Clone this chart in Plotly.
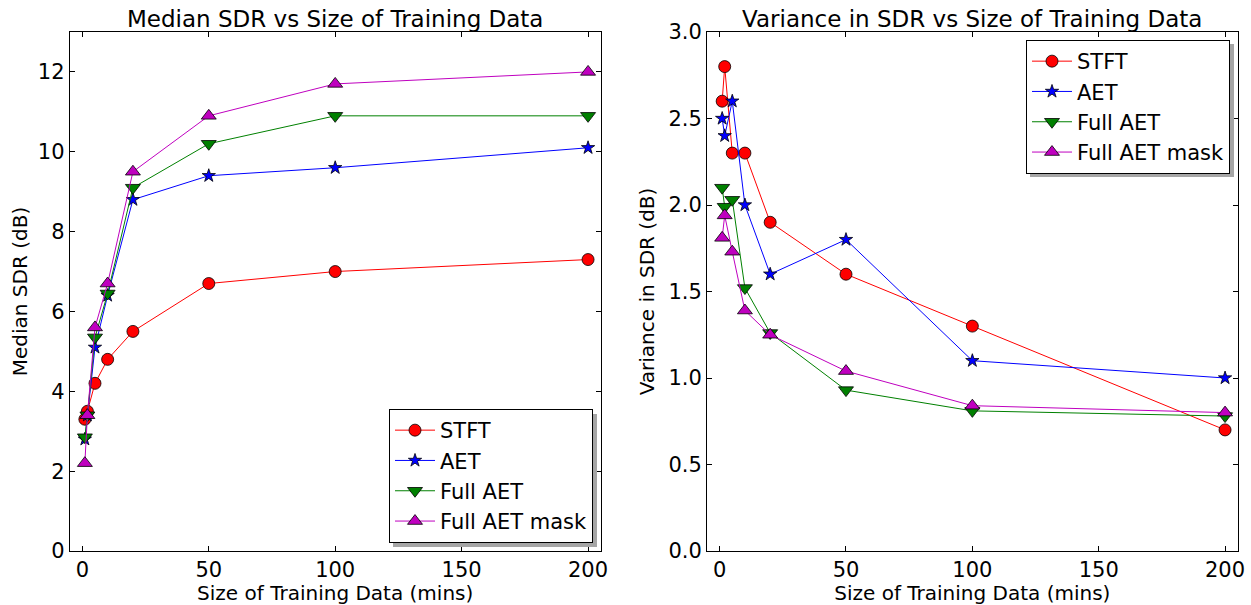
import plotly.graph_objects as go

x_mins = [1, 2, 5, 10, 20, 50, 100, 200]

series_names = ["STFT", "AET", "Full AET", "Full AET mask"]

median_stft = [3.3, 3.5, 4.2, 4.8, 5.5, 6.7, 7.0, 7.3]
median_aet = [2.8, 3.4, 5.1, 6.4, 8.8, 9.4, 9.6, 10.1]
median_full_aet = [2.85, 3.4, 5.35, 6.45, 9.1, 10.2, 10.9, 10.9]
median_full_aet_mask = [2.2, 3.4, 5.6, 6.7, 9.5, 10.9, 11.7, 12.0]

var_stft = [2.6, 2.8, 2.3, 2.3, 1.9, 1.6, 1.3, 0.7]
var_aet = [2.5, 2.4, 2.6, 2.0, 1.6, 1.8, 1.1, 1.0]
var_full_aet = [2.1, 1.99, 2.03, 1.52, 1.26, 0.93, 0.81, 0.78]
var_full_aet_mask = [1.81, 1.94, 1.73, 1.39, 1.25, 1.04, 0.84, 0.80]

x_ticks = [0, 50, 100, 150, 200]
left_y_ticks = [0, 2, 4, 6, 8, 10, 12]
right_y_ticks = [0.0, 0.5, 1.0, 1.5, 2.0, 2.5, 3.0]

colors = ["#ff0000", "#0000ff", "#008000", "#bf00bf"]
symbols = ["circle", "star", "triangle-down", "triangle-up"]
sizes = [12, 10, 13, 13]

W, H = 1251, 605
FONT = "DejaVu Sans"
FS_TICK = 21
FS_LABEL = 20
FS_LEG = 21
FS_TITLE = 23

fig = go.Figure()

left_data = [median_stft, median_aet, median_full_aet, median_full_aet_mask]
right_data = [var_stft, var_aet, var_full_aet, var_full_aet_mask]

for i, name in enumerate(series_names):
    fig.add_trace(go.Scatter(
        x=x_mins, y=left_data[i], name=name, mode="lines+markers",
        line=dict(color=colors[i], width=1),
        marker=dict(symbol=symbols[i], size=sizes[i], color=colors[i],
                    line=dict(color="black", width=0.8)),
        xaxis="x", yaxis="y", legend="legend"))
for i, name in enumerate(series_names):
    fig.add_trace(go.Scatter(
        x=x_mins, y=right_data[i], name=name, mode="lines+markers",
        line=dict(color=colors[i], width=1),
        marker=dict(symbol=symbols[i], size=sizes[i], color=colors[i],
                    line=dict(color="black", width=0.8)),
        xaxis="x2", yaxis="y2", legend="legend2"))

def px_x(p):
    return p / W

def px_y(p):
    return 1 - p / H

axis_common = dict(
    showline=True, mirror="ticks", linecolor="black", linewidth=1,
    ticks="inside", ticklen=5, tickcolor="black", tickwidth=1,
    showgrid=False, zeroline=False,
    tickfont=dict(family=FONT, size=FS_TICK, color="black"),
)

# legend drop shadows (gray boxes offset behind the legend boxes)
LEG1 = (389, 593, 410, 543)   # left, right, top, bottom (px)
LEG2 = (1026, 1230, 40, 173)
OFF = 4
shadows = []
for (l, r, t, b) in (LEG1, LEG2):
    shadows.append(dict(type="rect", xref="paper", yref="paper", layer="above",
                        x0=px_x(l + OFF), x1=px_x(r + OFF),
                        y0=px_y(b + OFF), y1=px_y(t + OFF),
                        fillcolor="#a6a6a6", line=dict(width=0)))

fig.update_layout(
    width=W, height=H,
    margin=dict(l=0, r=0, t=0, b=0, autoexpand=False),
    paper_bgcolor="white", plot_bgcolor="white",
    font=dict(family=FONT, color="black"),
    xaxis=dict(domain=[px_x(69.7), px_x(600.7)], range=[-5, 205],
               tickvals=x_ticks, anchor="y",
               title=dict(text="Size of Training Data (mins)",
                          font=dict(family=FONT, size=FS_LABEL), standoff=5),
               **axis_common),
    yaxis=dict(domain=[px_y(551), px_y(32)], range=[0, 13],
               tickvals=left_y_ticks, anchor="x",
               title=dict(text="Median SDR (dB)",
                          font=dict(family=FONT, size=FS_LABEL), standoff=4),
               **axis_common),
    xaxis2=dict(domain=[px_x(707), px_x(1237.7)], range=[-5, 205],
                tickvals=x_ticks, anchor="y2",
                title=dict(text="Size of Training Data (mins)",
                           font=dict(family=FONT, size=FS_LABEL), standoff=5),
                **axis_common),
    yaxis2=dict(domain=[px_y(551), px_y(32)], range=[0, 3.0],
                tickvals=right_y_ticks, tickformat=".1f", anchor="x2",
                title=dict(text="Variance in SDR (dB)",
                           font=dict(family=FONT, size=FS_LABEL), standoff=8),
                **axis_common),
    legend=dict(x=px_x(LEG1[1]), y=px_y(LEG1[3]), xanchor="right", yanchor="bottom",
                bgcolor="white", bordercolor="black", borderwidth=1,
                font=dict(family=FONT, size=FS_LEG), tracegroupgap=0,
                itemwidth=40),
    legend2=dict(x=px_x(LEG2[1]), y=px_y(LEG2[2]), xanchor="right", yanchor="top",
                 bgcolor="white", bordercolor="black", borderwidth=1,
                 font=dict(family=FONT, size=FS_LEG), tracegroupgap=0,
                 itemwidth=40),
    shapes=shadows,
    annotations=[
        dict(text="Median SDR vs Size of Training Data", x=(px_x(69.7) + px_x(600.7)) / 2,
             y=px_y(4), xref="paper", yref="paper", showarrow=False,
             font=dict(family=FONT, size=FS_TITLE), xanchor="center", yanchor="top"),
        dict(text="Variance in SDR vs Size of Training Data", x=(px_x(707) + px_x(1237.7)) / 2,
             y=px_y(4), xref="paper", yref="paper", showarrow=False,
             font=dict(family=FONT, size=FS_TITLE), xanchor="center", yanchor="top"),
    ],
)

fig.write_html("out.html")
